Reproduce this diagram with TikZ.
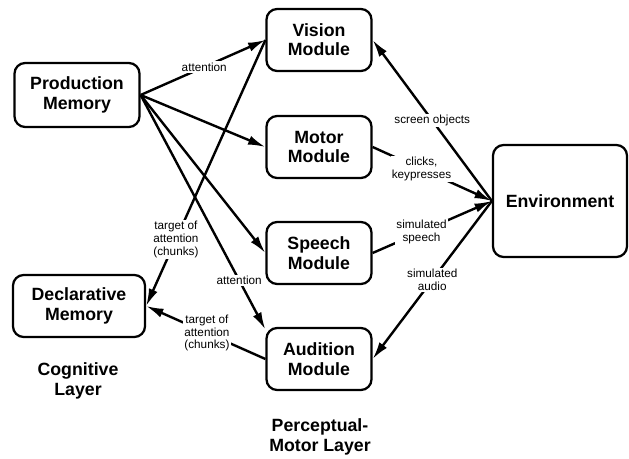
\documentclass[tikz,border=0pt]{standalone}
\usepackage{fontspec}
\setmainfont{Liberation Sans}
\usepackage{tikz}
\usetikzlibrary{arrows.meta}

\begin{document}
\begin{tikzpicture}[x=0.75pt,y=-0.75pt,
  box/.style={draw,line width=1.7pt,rounded corners=8pt,align=center,font=\bfseries\fontsize{13.3}{14.5}\selectfont,minimum width=78.75pt,minimum height=46.5pt},
  layer/.style={align=center,font=\bfseries\fontsize{13.3}{14.5}\selectfont},
  lbl/.style={fill=white,inner sep=1pt,align=center,font=\fontsize{8.8}{9.5}\selectfont},
  conn/.style={line width=1.8pt,-{Latex[length=13pt,width=7pt]}}]
  \useasboundingbox (0,0) rectangle (629,459);
  \node[box,minimum width=93.75pt,minimum height=48pt] (prod) at (77,95) {Production\\Memory};
  \node[box,minimum width=99pt] (decl) at (79,306) {Declarative\\Memory};
  \node[box] (vision) at (319,40) {Vision\\Module};
  \node[box] (motor) at (319,147) {Motor\\Module};
  \node[box] (speech) at (319,253) {Speech\\Module};
  \node[box] (audition) at (319,359) {Audition\\Module};
  \node[box,minimum width=100.5pt,minimum height=84pt] (env) at (560,201) {Environment};
  \node[layer] (cog) at (78,381) {Cognitive\\Layer};
  \node[layer] (pm) at (320,437) {Perceptual-\\Motor Layer};
  \draw[conn] (prod.east) -- node[lbl,pos=0.51] {attention} (vision.west);
  \draw[conn] (prod.east) -- (motor.west);
  \draw[conn] (prod.east) -- (speech.west);
  \draw[conn] (prod.east) -- node[lbl,pos=0.79] {attention} ([yshift=-2pt]audition.north west);
  \draw[conn] (vision.west) -- node[lbl,pos=0.75] {target of\\attention\\(chunks)} (decl.east);
  \draw[conn] (audition.west) -- node[lbl,pos=0.49] {target of\\attention\\(chunks)} (decl.east);
  \draw[conn] (env.west) -- node[lbl,pos=0.5] {screen objects} (vision.east);
  \draw[conn] (motor.east) -- node[lbl,pos=0.41] {clicks,\\keypresses} (env.west);
  \draw[conn] (speech.east) -- node[lbl,pos=0.41] {simulated\\speech} (env.west);
  \draw[conn] (env.west) -- node[lbl,pos=0.5] {simulated\\audio} (audition.east);
\end{tikzpicture}
\end{document}
